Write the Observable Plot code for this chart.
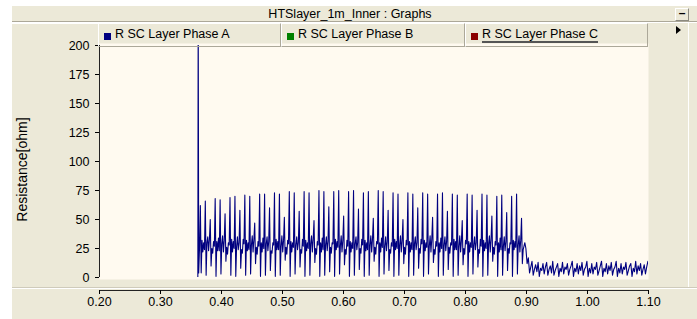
<!DOCTYPE html>
<html><head><meta charset="utf-8">
<script src="https://cdn.jsdelivr.net/npm/d3@7"></script>
<script src="https://cdn.jsdelivr.net/npm/@observablehq/plot@0.6"></script>
<style>
html,body{margin:0;padding:0;background:#fff;}
body{width:697px;height:319px;position:relative;overflow:hidden;font-family:"Liberation Sans",Arial,sans-serif;font-size:12px;color:#000;}
.abs{position:absolute;box-sizing:border-box;}
#win{left:12px;top:6px;width:685px;height:313px;background:#ece9d8;}
#titleline{left:12px;top:21px;width:685px;height:2px;border-top:1px solid #aca899;border-bottom:1px solid #fff;}
#title{left:12px;top:7px;width:676px;height:14px;line-height:14px;text-align:center;font-size:12.5px;}
#minbtn{left:675px;top:8px;width:14px;height:13px;border-top:1px solid #fff;border-left:1px solid #fff;border-right:1px solid #8c8a80;border-bottom:1px solid #8c8a80;text-align:center;line-height:9px;font-weight:bold;font-size:12px;}
#leftcell{left:12px;top:23px;width:86px;height:24px;border-top:1px solid #fff;}
.leg{top:23px;height:24px;border-top:1px solid #fff;border-left:1px solid #fff;border-right:1px solid #aca899;border-bottom:1px solid #aca899;white-space:nowrap;font-size:12.5px;line-height:20px;padding-left:16px;}
.sw{position:absolute;left:5px;top:9px;width:7px;height:7px;}
.u{border-bottom:2px solid #555;padding-bottom:0;}
#arrow{left:676px;top:26px;width:0;height:0;border-top:4px solid transparent;border-bottom:4px solid transparent;border-left:5px solid #000;}
#vline{left:688px;top:23px;width:1px;height:265px;background:#fff;}
#sep{left:12px;top:287px;width:685px;height:2px;border-top:1px solid #cfcbbb;border-bottom:1px solid #fff;}
#chart{left:0;top:0;}
</style></head>
<body>
<div class="abs" id="win"></div>
<div class="abs" id="title"></div>
<div class="abs" id="titleline"></div>
<div class="abs" id="minbtn">&#8211;</div>
<div class="abs" id="leftcell"></div>
<div class="abs" id="vline"></div>
<div class="abs" id="arrow"></div>
<div class="abs" id="sep"></div>
<div class="abs" id="chart"></div>
<div id="legend"></div>
<script>
const windowTitle = "HTSlayer_1m_Inner : Graphs";
const yLabel = "Resistance[ohm]";
const xTicks = [0.20,0.30,0.40,0.50,0.60,0.70,0.80,0.90,1.00,1.10];
const yTicks = [0,25,50,75,100,125,150,175,200];
const seriesNames = ["R SC Layer Phase A","R SC Layer Phase B","R SC Layer Phase C"];
const seriesColors = ["#000080","#008000","#8b0000"];

// Phase A: flat, then a large spike at switch-on
const phaseA_lead_t = [0.20, 0.3612, 0.3618, 0.3626];
const phaseA_lead_v = [0, 0, 240, 4];
// Phase A: main oscillating section (sampled every phaseA_dt1 from phaseA_t0)
const phaseA_t0 = 0.364;
const phaseA_dt1 = 0.00135;
const phaseA_seg1 = [
 26,62,4,32,22,30, 24,66,2,30,35,23, 33,50,10,25,21,31, 27,68,1,31,23,34,
 23,67,3,29,36,22, 32,55,14,26,20,30, 28,69,2,33,22,31, 25,70,1,27,35,24,
 30,58,8,24,21,33, 29,71,2,32,23,30, 24,70,3,28,36,22, 33,47,12,26,20,31,
 27,72,1,30,22,34, 25,72,2,29,35,23, 31,60,6,23,21,30, 28,73,1,33,24,31,
 24,72,2,27,36,22, 32,52,15,26,20,32, 29,74,1,31,22,30, 26,73,3,28,35,24,
 30,57,9,24,21,33, 27,74,1,32,23,30, 25,73,2,29,36,22, 33,49,13,25,20,31,
 28,75,1,30,22,34, 24,74,2,28,35,23, 31,61,5,26,21,30, 29,74,1,33,24,31,
 26,75,3,27,36,22, 32,53,11,24,20,32, 27,74,1,31,22,30, 25,75,2,29,35,24,
 30,59,7,25,21,33, 28,73,1,32,23,30, 24,74,2,28,36,22, 33,51,14,26,20,31,
 29,75,1,30,22,34, 26,74,3,27,35,23, 31,58,6,24,21,30, 27,73,1,33,24,31,
 25,72,2,28,36,22, 32,50,12,26,20,32, 28,73,1,31,22,30, 24,72,2,29,35,24,
 30,60,8,25,21,33, 29,73,1,32,23,30, 26,72,3,27,36,22, 33,52,13,24,20,31,
 27,72,1,30,22,34, 25,73,2,28,35,23, 31,57,7,26,21,30, 28,72,1,33,24,31,
 24,71,2,27,36,22, 32,49,11,25,20,32, 29,72,1,31,22,30, 26,71,3,28,35,24,
 30,58,9,24,21,33, 27,72,1,32,23,30, 25,71,2,29,36,22, 33,53,14,26,20,31,
 28,70,1,30,22,34, 24,71,2,27,35,23, 31,56,6,25,21,30, 29,70,1,32,24,31,
 26,72,3,28,36,22, 32,51,12,24,27,30
];
// Phase A: low-level section after the drop
const phaseA_t1 = 0.899;
const phaseA_dt2 = 0.002;
const phaseA_seg2 = [
 25,12,17,4, 9,14,2,7, 11,5,13,1, 8,6,12,3,
 9,13,2,7, 10,4,14,2, 6,9,12,1, 8,5,13,3,
 9,7,12,2, 7,10,14,1, 8,5,12,3, 10,6,13,2,
 7,9,14,1, 8,4,12,3, 9,7,13,2, 6,10,14,1,
 8,5,12,3, 10,6,13,2, 7,9,14,1, 8,4,12,3,
 9,7,13,2, 6,10,12,1, 8,5,14,3, 10,6,12,2,
 7,11,3, 9,14
];
const phaseB_t = [0.20, 1.10];
const phaseB_v = [0, 0];
const phaseC_t = [0.20, 1.10];
const phaseC_v = [0, 0];

// build tables
const A = [];
phaseA_lead_t.forEach((t,i)=>A.push({t, v: phaseA_lead_v[i]}));
phaseA_seg1.forEach((v,i)=>A.push({t: phaseA_t0 + i*phaseA_dt1, v}));
phaseA_seg2.forEach((v,i)=>A.push({t: phaseA_t1 + i*phaseA_dt2, v}));
const B = phaseB_t.map((t,i)=>({t, v: phaseB_v[i]}));
const C = phaseC_t.map((t,i)=>({t, v: phaseC_v[i]}));

document.getElementById("title").textContent = windowTitle;

const chart = Plot.plot({
  width: 697, height: 319,
  marginLeft: 99, marginRight: 49, marginTop: 45, marginBottom: 42,
  style: {background: "transparent", fontFamily: "'Liberation Sans', Arial, sans-serif", fontSize: "12.5px", color: "#000", overflow: "visible"},
  x: {domain: [0.2, 1.1]},
  y: {domain: [0, 200]},
  marks: [
    Plot.frame({fill: "#fffaf0", stroke: null, insetTop: -2, insetBottom: -2}),
    Plot.line(A, {x: "t", y: "v", stroke: seriesColors[0], strokeWidth: 1.1, clip: true}),
    Plot.line(B, {x: "t", y: "v", stroke: seriesColors[1], strokeWidth: 1.2, clip: true}),
    Plot.line(C, {x: "t", y: "v", stroke: "#b02828", strokeWidth: 1.2, clip: true}),
    Plot.ruleX([0.2], {stroke: "#222"}),
    Plot.axisY({ticks: yTicks, tickFormat: d => String(d), tickSize: 4, tickPadding: 6, label: null}),
    Plot.ruleY([0], {dy: 13, stroke: "#222"}),
    Plot.axisX({ticks: xTicks, tickFormat: d3.format(".2f"), tickSize: 4, tickPadding: 3, dy: 13, label: null}),
    Plot.text([yLabel], {frameAnchor: "left", dx: -77, dy: 8, rotate: -90, textAnchor: "middle", fontSize: 14})
  ]
});
document.getElementById("chart").appendChild(chart);

// legend
const legend = document.getElementById("legend");
const legX = [98, 281, 465];
const legW = [183, 184, 183];
seriesNames.forEach((name, i) => {
  const d = document.createElement("div");
  d.className = "abs leg";
  d.style.left = legX[i] + "px";
  d.style.width = legW[i] + "px";
  const sw = document.createElement("span");
  sw.className = "sw";
  sw.style.background = seriesColors[i];
  d.appendChild(sw);
  const tx = document.createElement("span");
  tx.textContent = name;
  if (i === 2) tx.className = "u";
  d.appendChild(tx);
  legend.appendChild(d);
});
</script>
</body></html>
